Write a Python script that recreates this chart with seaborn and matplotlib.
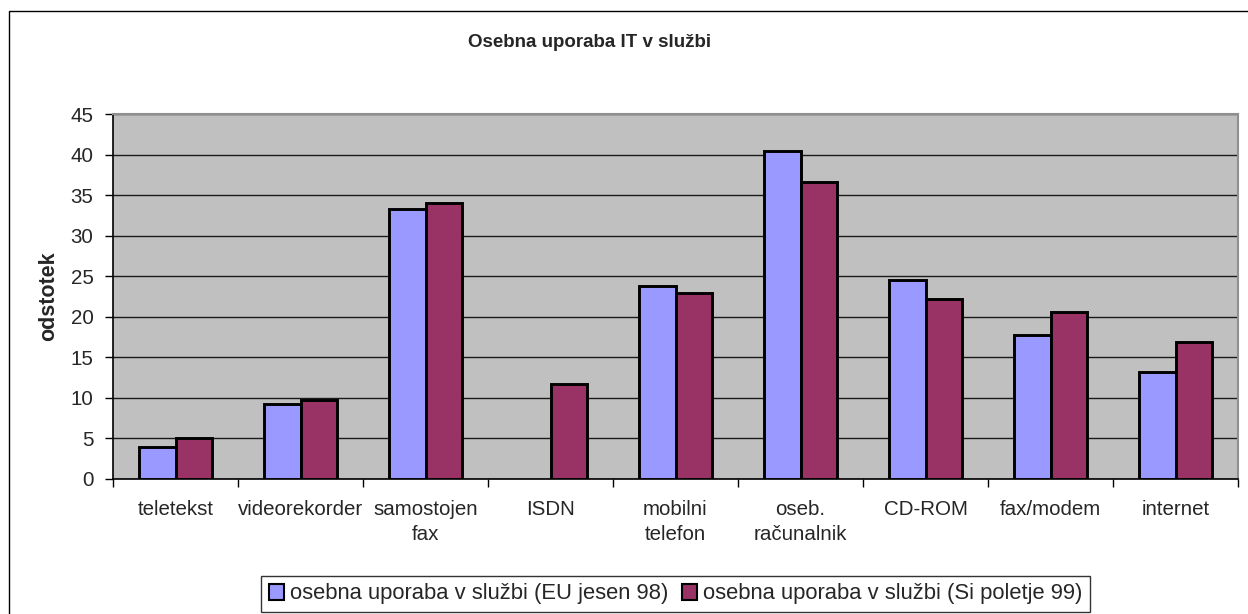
import numpy as np
import pandas as pd
import matplotlib
matplotlib.use("Agg")
import matplotlib.pyplot as plt
from matplotlib.patches import Rectangle
import seaborn as sns

categories = ["teletekst", "videorekorder", "samostojen\nfax", "ISDN", "mobilni\ntelefon",
              "oseb.\nračunalnik", "CD-ROM", "fax/modem", "internet"]
series_names = ["osebna uporaba v službi (EU jesen 98)", "osebna uporaba v službi (Si poletje 99)"]
eu_values = [4.0, 9.2, 33.3, np.nan, 23.8, 40.5, 24.5, 17.8, 13.2]
si_values = [5.0, 9.8, 34.0, 11.7, 22.9, 36.6, 22.2, 20.6, 16.9]
y_ticks = [0, 5, 10, 15, 20, 25, 30, 35, 40, 45]
title = "Osebna uporaba IT v službi"
y_label = "odstotek"
colors = ["#9999FF", "#993366"]

df = pd.DataFrame({
    "kategorija": categories * 2,
    "serija": [series_names[0]] * len(categories) + [series_names[1]] * len(categories),
    "vrednost": eu_values + si_values,
})

sns.set_style("white")
plt.rcParams["font.family"] = ["Liberation Sans", "DejaVu Sans"]

W, H = 1248, 614
fig = plt.figure(figsize=(W / 100, H / 100), dpi=100)
ax = fig.add_axes([113 / W, 1 - 479 / H, (1238 - 113) / W, (479 - 114) / H])
ax.set_facecolor("#C0C0C0")

sns.barplot(data=df, x="kategorija", y="vrednost", hue="serija", order=categories,
            hue_order=series_names, palette=colors, width=0.584, gap=0,
            edgecolor="black", linewidth=2.1, saturation=1, ax=ax, zorder=3)

ax.set_ylim(0, 45)
ax.set_xlim(-0.5, len(categories) - 0.5)
ax.set_yticks(y_ticks)
ax.set_yticklabels([str(v) for v in y_ticks])
ax.yaxis.grid(True, color="#1a1a1a", linewidth=1.0, zorder=1)
ax.set_axisbelow(True)

ax.tick_params(axis="y", which="major", direction="out", length=6, width=1,
               color="black", pad=8, labelsize=14.8, left=True)
ax.tick_params(axis="x", which="major", length=0, pad=15, labelsize=14.8)
ax.set_xticks(np.arange(len(categories) + 1) - 0.5, minor=True)
ax.tick_params(axis="x", which="minor", direction="out", length=6, width=1, color="black", bottom=True)
for lbl in ax.get_xticklabels():
    lbl.set_linespacing(1.4)
    lbl.set_horizontalalignment("center")

ax.set_xlabel("")
ax.set_ylabel(y_label, fontsize=15.5, fontweight="bold", labelpad=8)

for side in ["left", "bottom"]:
    ax.spines[side].set_color("black")
    ax.spines[side].set_linewidth(1.2)
for side in ["top", "right"]:
    ax.spines[side].set_visible(True)
    ax.spines[side].set_color("#909090")
    ax.spines[side].set_linewidth(1.5)

fig.text(468 / W, 1 - 47 / H, title, ha="left", va="baseline",
         fontsize=13.5, fontweight="bold")

handles, labels = ax.get_legend_handles_labels()
ax.legend_.remove()
leg = fig.legend(handles, labels, loc="center", bbox_to_anchor=((263 + 1088) / 2 / W, 1 - 594 / H),
                 ncol=2, frameon=True, fancybox=False, edgecolor="black", fontsize=15.8,
                 handlelength=0.7, handleheight=0.7, handletextpad=0.28, columnspacing=0.6,
                 borderpad=0.35, borderaxespad=0)
leg.get_frame().set_linewidth(1.0)
for h in leg.legend_handles:
    h.set_edgecolor("black")
    h.set_linewidth(1.5)

fig.patches.append(Rectangle((8.5 / W, -0.1), 1.2, 1.1 - 11.5 / H, transform=fig.transFigure,
                             fill=False, edgecolor="black", linewidth=1.0, figure=fig))

fig.savefig("out.png", dpi=100, facecolor="white")
